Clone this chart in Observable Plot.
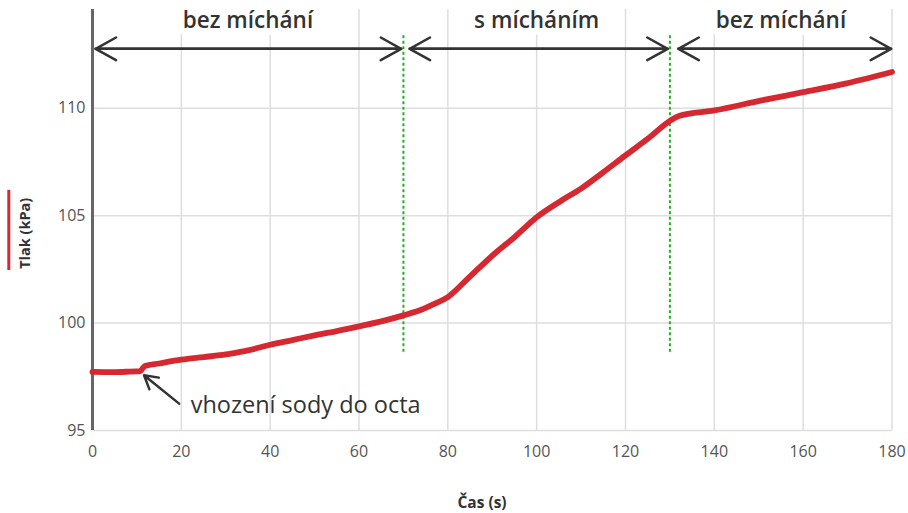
<!DOCTYPE html>
<html><head><meta charset="utf-8">
<script src="https://cdn.jsdelivr.net/npm/d3@7"></script>
<script src="https://cdn.jsdelivr.net/npm/@observablehq/plot@0.6"></script>
<style>html,body{margin:0;padding:0;background:#fff}</style>
</head><body><div id="chart"></div>
<script>
const time = [0, 5, 10, 10.6, 11.8, 15, 20, 25, 30, 33, 35, 40, 45, 50, 55, 60, 65, 70, 74, 77, 80, 84.5, 90.5, 95, 100, 105.6, 110, 114.6, 120, 125, 130.4, 132, 140, 150.7, 160, 169.5, 180];
const pressure = [97.73, 97.72, 97.75, 97.75, 98.0, 98.12, 98.30, 98.42, 98.54, 98.65, 98.73, 98.99, 99.21, 99.43, 99.63, 99.85, 100.08, 100.36, 100.62, 100.9, 101.21, 102.07, 103.23, 104.0, 104.93, 105.71, 106.26, 106.96, 107.81, 108.58, 109.47, 109.64, 109.9, 110.37, 110.75, 111.15, 111.69];

const xTicks = [0, 20, 40, 60, 80, 100, 120, 140, 160, 180];
const yTicks = [95, 100, 105, 110];

// Phases
const phaseLabels = ["bez míchání", "s mícháním", "bez míchání"];
const phaseCenters = [35, 100, 155];
const phaseStart = [0.7, 71.4, 131.9];
const phaseEnd = [69.5, 129.5, 179.8];
const switchTimes = [70, 130];

// Annotation
const noteText = ["vhození sody do octa"];

const red = "#d62830";
const dark = "#333333";

const chart = Plot.plot({
  width: 908,
  height: 513,
  marginLeft: 92,
  marginRight: 16.5,
  marginTop: 9,
  marginBottom: 83,
  x: {domain: [0, 180]},
  y: {domain: [95, 114.6]},
  style: {fontFamily: "'Open Sans', sans-serif", background: "white", overflow: "visible"},
  marks: [
    Plot.gridX(xTicks, {stroke: "#dedede", strokeOpacity: 1, strokeWidth: 1.5}),
    Plot.gridY(yTicks, {stroke: "#dedede", strokeOpacity: 1, strokeWidth: 1.5}),
    Plot.axisX({ticks: xTicks, tickSize: 0, tickPadding: 15, fontSize: 16, fill: "#555", label: null}),
    Plot.axisY({ticks: yTicks, tickSize: 0, tickPadding: 7, fontSize: 16, fill: "#555", label: null}),
    Plot.ruleX([0], {stroke: "#666", strokeWidth: 3}),
    Plot.ruleX(switchTimes, {y1: () => 98.64, y2: () => 113.49, stroke: "#1fb31f", strokeWidth: 2, strokeDasharray: "3,2.5"}),
    Plot.line(time, {x: time, y: pressure, stroke: red, strokeWidth: 5.8, strokeLinejoin: "round", curve: "monotone-x"}),
    // double-headed phase arrows
    Plot.arrow(phaseStart, {x1: phaseStart, x2: phaseEnd, y1: () => 112.77, y2: () => 112.77, stroke: dark, strokeWidth: 2.5, headLength: 14, headAngle: 58}),
    Plot.arrow(phaseStart, {x1: phaseEnd, x2: phaseStart, y1: () => 112.77, y2: () => 112.77, stroke: dark, strokeWidth: 2.5, headLength: 14, headAngle: 58}),
    Plot.text(phaseLabels, {x: phaseCenters, y: () => 114.09, text: d => d, fontSize: 22.5, fontWeight: 600, fill: dark, stroke: "white", strokeWidth: 14, lineAnchor: "middle"}),
    // annotation
    Plot.arrow(noteText, {x1: () => 19.5, y1: () => 96.25, x2: () => 11.6, y2: () => 97.57, stroke: dark, strokeWidth: 2.5, headLength: 12, headAngle: 60}),
    Plot.text(noteText, {x: () => 22.1, y: () => 96.17, text: d => d, textAnchor: "start", fontSize: 23.5, fontWeight: 500, fill: dark}),
    // axis titles
    Plot.text(["Tlak (kPa)"], {x: () => 0, y: () => 104.18, dx: -66.7, rotate: -90, text: d => d, fontSize: 14.5, fontWeight: 700, fill: dark}),
    Plot.ruleX(["swatch"], {x: () => 0, dx: -83.7, y1: () => 106.18, y2: () => 102.45, stroke: red, strokeWidth: 3}),
    Plot.text(["Čas (s)"], {x: () => 87.7, y: () => 91.61, text: d => d, fontSize: 15.5, fontWeight: 700, fill: dark})
  ]
});
document.getElementById("chart").appendChild(chart);
</script>
</body></html>
